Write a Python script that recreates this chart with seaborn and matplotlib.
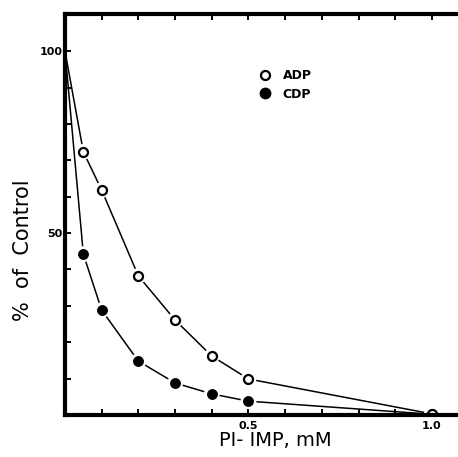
import matplotlib
matplotlib.use("Agg")
import matplotlib.pyplot as plt
from matplotlib.lines import Line2D
import seaborn as sns
import pandas as pd

# Pi-IMP concentration (mM) and activity (% of control)
conc = [0.0, 0.05, 0.1, 0.2, 0.3, 0.4, 0.5, 1.0]
adp = [100, 72.3, 61.8, 38.2, 26.1, 16.2, 9.9, 0.3]
cdp = [100, 44.2, 28.8, 14.8, 8.8, 5.8, 3.8, 0.2]

x_ticks = [0.1, 0.2, 0.3, 0.4, 0.5, 0.6, 0.7, 0.8, 0.9, 1.0]
x_tick_labels = ["", "", "", "", "0.5", "", "", "", "", "1.0"]
y_ticks = [10, 20, 30, 40, 50, 60, 70, 80, 90, 100]
y_tick_labels = ["", "", "", "", "50", "", "", "", "", "100"]

df = pd.DataFrame({"conc": conc, "ADP": adp, "CDP": cdp})
# the control point at 0 mM sits on the axis and has no symbol
pts = df[df["conc"] > 0]

sns.set_style("white")
plt.rcParams["font.family"] = ["DejaVu Sans"]
plt.rcParams["text.color"] = "black"
plt.rcParams["xtick.color"] = "black"
plt.rcParams["ytick.color"] = "black"
plt.rcParams["axes.labelcolor"] = "black"

fig = plt.figure(figsize=(4.58, 4.57), dpi=100)
W, H = 458, 457
left, right, top, bottom = 65, 458, 14, 415
ax = fig.add_axes([left / W, 1 - bottom / H, (right - left) / W, (bottom - top) / H])

for col in ["CDP", "ADP"]:
    sns.lineplot(data=df, x="conc", y=col, color="black", lw=1.1, ax=ax, zorder=2)

# white halos give the small gaps between the lines and the symbols
for col in ["CDP", "ADP"]:
    sns.scatterplot(data=pts, x="conc", y=col, s=130, color="white", edgecolor="none",
                    ax=ax, zorder=2.2, legend=False)

sns.scatterplot(data=pts, x="conc", y="CDP", s=52, color="black", edgecolor="black",
                ax=ax, zorder=2.4, legend=False)
sns.scatterplot(data=pts, x="conc", y="ADP", s=42, color="white", edgecolor="black",
                linewidth=1.6, ax=ax, zorder=2.5, legend=False)

ax.set_xlim(0, 1.071)
ax.set_ylim(0, 110.2)

ax.set_xticks(x_ticks)
ax.set_xticklabels(x_tick_labels, fontsize=8, fontweight="bold")
ax.set_yticks(y_ticks)
ax.set_yticklabels(y_tick_labels, fontsize=8, fontweight="bold")
ax.tick_params(axis="both", direction="in", length=4, width=1.4, color="black",
               top=True, bottom=True, left=True, pad=2)
ax.tick_params(axis="x", pad=4)

for side in ["left", "bottom", "top"]:
    ax.spines[side].set_linewidth(3)
    ax.spines[side].set_color("black")
    ax.spines[side].set_zorder(3)
ax.spines["right"].set_visible(False)

ax.set_xlabel("PI- IMP, mM", fontsize=14)
ax.xaxis.set_label_coords((275 - left) / (right - left), (bottom - 431) / (bottom - top))
ax.set_ylabel("%  of  Control", fontsize=15)
ax.yaxis.set_label_coords((33 - left) / (right - left), (bottom - 250) / (bottom - top))

handles = [
    Line2D([], [], ls="none", marker="o", ms=6.5, mfc="white", mec="black", mew=1.6),
    Line2D([], [], ls="none", marker="o", ms=7.5, mfc="black", mec="black"),
]
ax.legend(handles, ["ADP", "CDP"], loc="upper left",
          bbox_to_anchor=((259 - left) / (right - left), (bottom - 69) / (bottom - top)),
          frameon=False, borderpad=0, borderaxespad=0, handlelength=1.0,
          handletextpad=0.9, labelspacing=0.45, prop={"size": 9, "weight": "bold"})

fig.savefig("out.png", dpi=100)
